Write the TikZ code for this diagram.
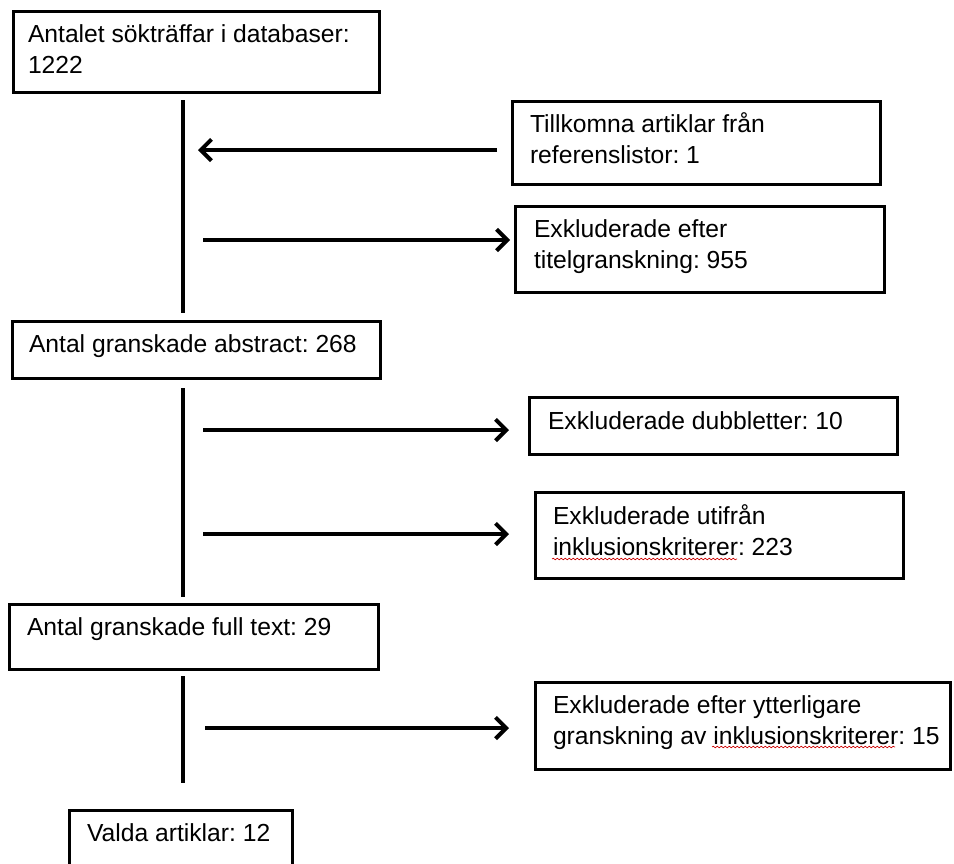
\documentclass[tikz,border=0pt]{standalone}
\usepackage{fontspec}
\setmainfont{Liberation Sans}
\frenchspacing
\usetikzlibrary{arrows.meta,fit,decorations.pathmorphing}
\begin{document}
\begin{tikzpicture}[x=0.75pt,y=-0.75pt,
  box/.style={draw, line width=2.25pt, inner sep=0pt, outer sep=0pt},
  txt/.style={anchor=north west, inner sep=0pt, outer sep=0pt, align=left, font=\fontsize{18.5pt}{23pt}\selectfont\frenchspacing},
  vline/.style={line width=3.4pt},
  arr/.style={line width=3pt, -{Straight Barb[length=8pt,width=16pt]}},
  squig/.style={red!80!black, line width=0.5pt, decorate, decoration={snake, amplitude=0.6pt, segment length=3pt}}]
\useasboundingbox (0,0) rectangle (954,864);
% boxes
\node[box, fit={(13,11) (379,92)}] (b1) {};
\node[box, fit={(512,101) (880,184)}] (b2) {};
\node[box, fit={(515,206) (884,292)}] (b3) {};
\node[box, fit={(12,321) (380,378)}] (b4) {};
\node[box, fit={(529,397) (897,454)}] (b5) {};
\node[box, fit={(535,492) (903,578)}] (b6) {};
\node[box, fit={(9,604) (378,669)}] (b7) {};
\node[box, fit={(535,682) (950,769)}] (b8) {};
\node[box, fit={(69,810) (292,870)}] (b9) {};
% texts
\node[txt] (t1) at ([shift={(15,10.5)}]b1.north west) {\strut Antalet sökträffar i databaser:\\1222};
\node[txt] (t2) at ([shift={(18,10.5)}]b2.north west) {\strut Tillkomna artiklar från\\referenslistor: 1};
\node[txt] (t3) at ([shift={(19,10.5)}]b3.north west) {\strut Exkluderade efter\\titelgranskning: 955};
\node[txt] (t4) at ([shift={(17,10.5)}]b4.north west) {\strut Antal granskade abstract: 268};
\node[txt] (t5) at ([shift={(19,11)}]b5.north west) {\strut Exkluderade dubbletter: 10};
\node[txt] (t6) at ([shift={(18,11)}]b6.north west) {\strut Exkluderade utifrån\\inklusionskriterer: 223};
\node[txt] (t7) at ([shift={(18,10.5)}]b7.north west) {\strut Antal granskade full text: 29};
\node[txt] (t8) at ([shift={(18,10)}]b8.north west) {\strut Exkluderade efter ytterligare\\granskning av inklusionskriterer: 15};
\node[txt] (t9) at ([shift={(18,10.5)}]b9.north west) {\strut Valda artiklar: 12};
% vertical lines
\coordinate (v1a) at (183,100); \coordinate (v1b) at (183,313);
\coordinate (v2a) at (183,388); \coordinate (v2b) at (183,597);
\coordinate (v3a) at (183,676); \coordinate (v3b) at (183,783);
\draw[vline] (v1a) -- (v1b);
\draw[vline] (v2a) -- (v2b);
\draw[vline] (v3a) -- (v3b);
% arrows
\coordinate (a1s) at (497,150); \coordinate (a1e) at (198,150);
\coordinate (a2s) at (203,240); \coordinate (a2e) at (510,240);
\coordinate (a3s) at (203,430); \coordinate (a3e) at (509,430);
\coordinate (a4s) at (203,534); \coordinate (a4e) at (509,534);
\coordinate (a5s) at (205,728); \coordinate (a5e) at (509,728);
\draw[arr] (a1s) -- (a1e);
\draw[arr] (a2s) -- (a2e);
\draw[arr] (a3s) -- (a3e);
\draw[arr] (a4s) -- (a4e);
\draw[arr] (a5s) -- (a5e);
% spell-check squiggles
\coordinate (s1a) at (552,559); \coordinate (s1b) at (737,559);
\coordinate (s2a) at (712,747); \coordinate (s2b) at (895,747);
\draw[squig] (s1a) -- (s1b);
\draw[squig] (s2a) -- (s2b);
\end{tikzpicture}
\end{document}
